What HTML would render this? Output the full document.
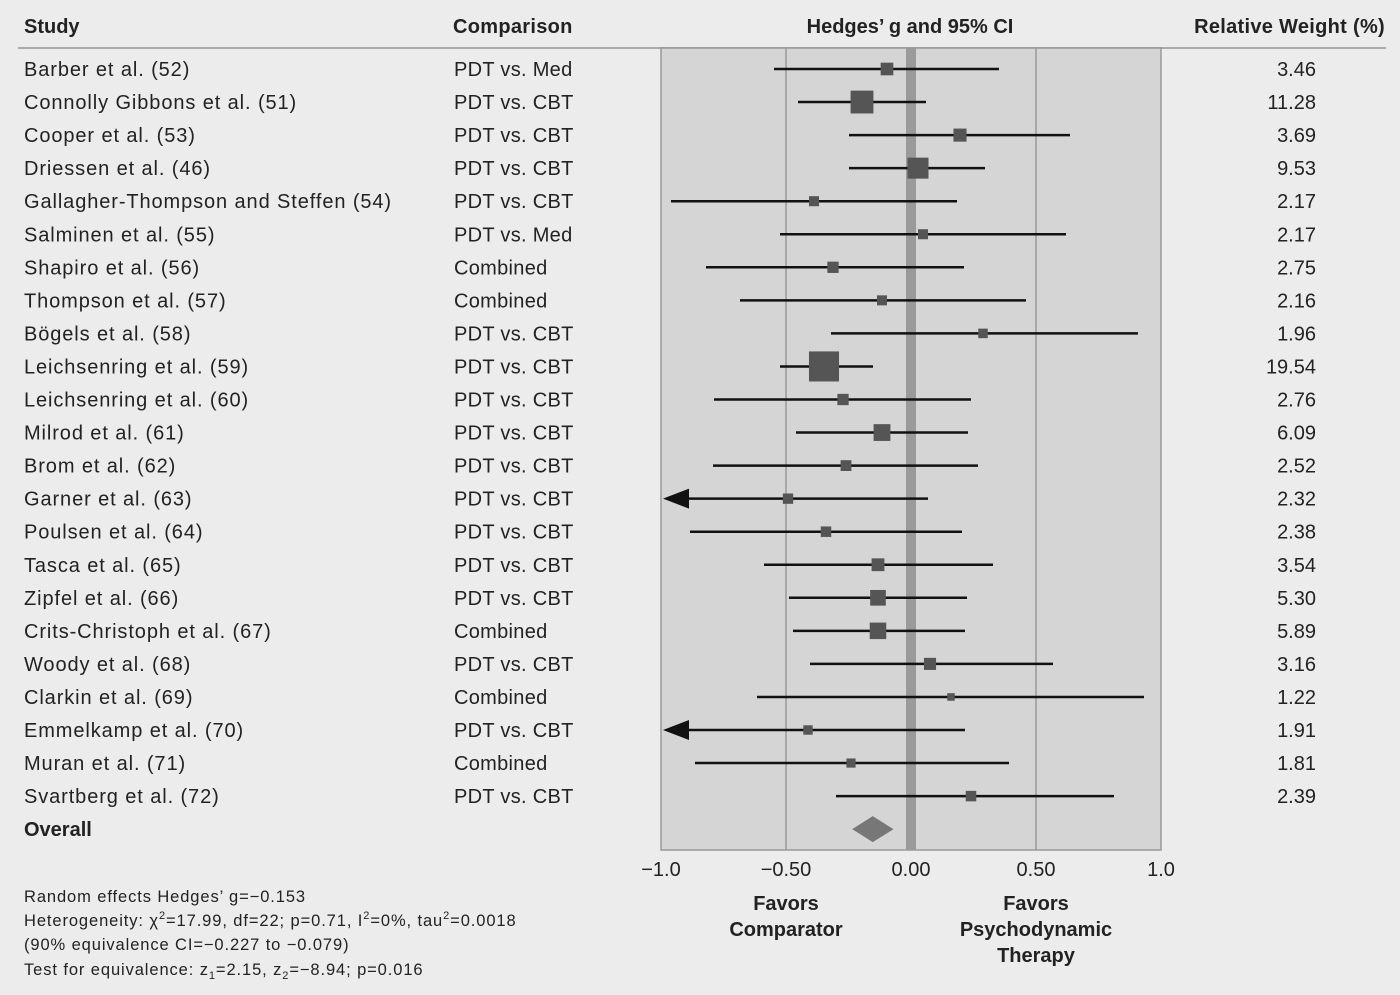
<!DOCTYPE html>
<html><head><meta charset="utf-8"><style>
body{margin:0;background:#ececec;}
svg{display:block;font-family:"Liberation Sans",sans-serif;}
</style></head><body>
<svg id="c" width="1400" height="995" viewBox="0 0 1400 995">
<rect width="1400" height="995" fill="#ececec"/>
<g id="hdr" font-size="20" font-weight="bold" fill="#222">
<text x="24" y="33">Study</text>
<text x="453" y="33" letter-spacing="0.3">Comparison</text>
<text x="910" y="33" text-anchor="middle">Hedges’ g and 95% CI</text>
<text x="1385" y="33" text-anchor="end" letter-spacing="0.3">Relative Weight (%)</text>
</g>
<line x1="18" y1="48" x2="1386" y2="48" stroke="#aaa" stroke-width="2"/>
<rect x="661" y="48" width="500" height="802" fill="#d5d5d5" stroke="#999" stroke-width="1.5"/>
<g id="rows"></g>
<g id="axis" font-size="20" fill="#222"></g>
<g font-size="20" font-weight="bold" fill="#222" text-anchor="middle">
<text x="786" y="910"><tspan x="786">Favors</tspan><tspan x="786" dy="26">Comparator</tspan></text>
<text x="1036" y="910"><tspan x="1036">Favors</tspan><tspan x="1036" dy="26">Psychodynamic</tspan><tspan x="1036" dy="26">Therapy</tspan></text>
</g>
<g font-size="16.5" fill="#222" letter-spacing="0.9">
<text x="24" y="902">Random effects Hedges’ g=−0.153</text>
<text x="24" y="926">Heterogeneity: χ<tspan font-size="11" dy="-7">2</tspan><tspan dy="7">=17.99, df=22; p=0.71, I</tspan><tspan font-size="11" dy="-7">2</tspan><tspan dy="7">=0%, tau</tspan><tspan font-size="11" dy="-7">2</tspan><tspan dy="7">=0.0018</tspan></text>
<text x="24" y="950">(90% equivalence CI=−0.227 to −0.079)</text>
<text x="24" y="975">Test for equivalence: z<tspan font-size="11" dy="4">1</tspan><tspan dy="-4">=2.15, z</tspan><tspan font-size="11" dy="4">2</tspan><tspan dy="-4">=−8.94; p=0.016</tspan></text>
</g>
</svg>
<script>
const studies=["Barber et al. (52)","Connolly Gibbons et al. (51)","Cooper et al. (53)","Driessen et al. (46)","Gallagher-Thompson and Steffen (54)","Salminen et al. (55)","Shapiro et al. (56)","Thompson et al. (57)","Bögels et al. (58)","Leichsenring et al. (59)","Leichsenring et al. (60)","Milrod et al. (61)","Brom et al. (62)","Garner et al. (63)","Poulsen et al. (64)","Tasca et al. (65)","Zipfel et al. (66)","Crits-Christoph et al. (67)","Woody et al. (68)","Clarkin et al. (69)","Emmelkamp et al. (70)","Muran et al. (71)","Svartberg et al. (72)"];
const comparisons=["PDT vs. Med","PDT vs. CBT","PDT vs. CBT","PDT vs. CBT","PDT vs. CBT","PDT vs. Med","Combined","Combined","PDT vs. CBT","PDT vs. CBT","PDT vs. CBT","PDT vs. CBT","PDT vs. CBT","PDT vs. CBT","PDT vs. CBT","PDT vs. CBT","PDT vs. CBT","Combined","PDT vs. CBT","Combined","PDT vs. CBT","Combined","PDT vs. CBT"];
const effects=[-0.096,-0.196,0.196,0.028,-0.388,0.048,-0.312,-0.116,0.288,-0.348,-0.272,-0.116,-0.26,-0.492,-0.34,-0.132,-0.132,-0.132,0.076,0.16,-0.412,-0.24,0.24];
const ciLow=[-0.548,-0.452,-0.248,-0.248,-0.96,-0.524,-0.82,-0.684,-0.32,-0.524,-0.788,-0.46,-0.792,-1.2,-0.884,-0.588,-0.488,-0.472,-0.404,-0.616,-1.2,-0.864,-0.3];
const ciHigh=[0.352,0.06,0.636,0.296,0.184,0.62,0.212,0.46,0.908,-0.152,0.24,0.228,0.268,0.068,0.204,0.328,0.224,0.216,0.568,0.932,0.216,0.392,0.812];
const weights=[3.46,11.28,3.69,9.53,2.17,2.17,2.75,2.16,1.96,19.54,2.76,6.09,2.52,2.32,2.38,3.54,5.30,5.89,3.16,1.22,1.91,1.81,2.39];
const overall=[-0.153,-0.235,-0.07];
const ticks=[-1.0,-0.5,0,0.5,1.0];
const tickLabels=["−1.0","−0.50","0.00","0.50","1.0"];
const NS="http://www.w3.org/2000/svg";
const xS=v=>911+v*250, yS=i=>69+i*33.05;
function mk(tag,at,parent,txt){const e=document.createElementNS(NS,tag);for(const k in at)e.setAttribute(k,at[k]);if(txt!=null)e.textContent=txt;parent.appendChild(e);return e;}
const svg=document.getElementById('c'),rows=document.getElementById('rows'),axis=document.getElementById('axis');
ticks.forEach((t,k)=>{if(t===-0.5||t===0.5){const l=mk('line',{x1:xS(t),x2:xS(t),y1:48,y2:850,stroke:'#999','stroke-width':1.5},rows);

}
const tl=mk('text',{x:xS(t),y:876,'text-anchor':'middle'},axis,tickLabels[k]);

});
const z=mk('rect',{x:xS(0)-5,y:48,width:10,height:802,fill:'#9a9a9a'},rows);


studies.forEach((s,i)=>{const y=yS(i);
const t1=mk('text',{x:24,y:y+7,'font-size':20,fill:'#222','letter-spacing':0.9},rows,s);


const t2=mk('text',{x:454,y:y+7,'font-size':20,fill:'#222','letter-spacing':0.3},rows,comparisons[i]);


const t3=mk('text',{x:1316,y:y+7,'font-size':20,fill:'#222','text-anchor':'end'},rows,weights[i].toFixed(2));


const lo=Math.max(ciLow[i],-1),arrow=ciLow[i]<-1;
const ln=mk('line',{x1:xS(lo)+(arrow?10:0),x2:xS(ciHigh[i]),y1:y,y2:y,stroke:'#111','stroke-width':2.5},rows);


if(arrow){const a=mk('polygon',{points:`${xS(-1)+2},${y} ${xS(-1)+28},${y-10} ${xS(-1)+28},${y+10}`,fill:'#111'},rows);

}
const sz=Math.sqrt(weights[i])*6.8;
const sq=mk('rect',{x:xS(effects[i])-sz/2,y:y-sz/2,width:sz,height:sz,fill:'#555'},rows);

});
const yo=yS(23);
const ot=mk('text',{x:24,y:yo+7,'font-size':20,'font-weight':'bold',fill:'#222'},rows,'Overall');


const d=mk('polygon',{points:`${xS(overall[1])},${yo} ${xS(overall[0])},${yo-13} ${xS(overall[2])},${yo} ${xS(overall[0])},${yo+13}`,fill:'#777'},rows);


</script>
</body></html>
